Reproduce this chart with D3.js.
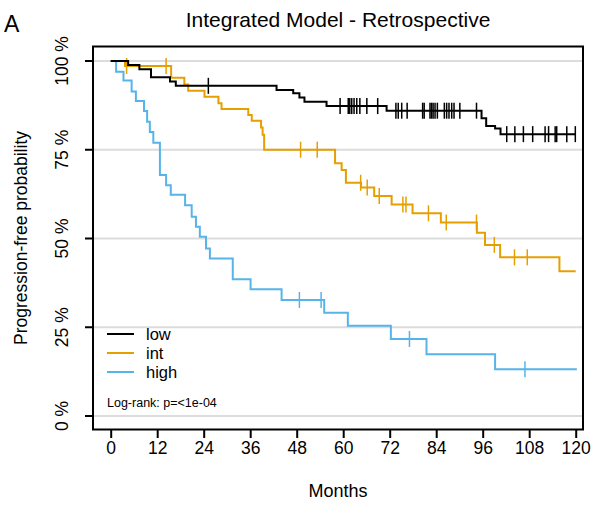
<!DOCTYPE html>
<html><head><meta charset="utf-8">
<script src="https://cdn.jsdelivr.net/npm/d3@7"></script>
<style>body{margin:0;background:#fff}text{font-family:"Liberation Sans",Arial,sans-serif}</style>
</head><body>
<script>
// step curves: [month, survival %]
const lowSteps = [[0,100],[4.5,98.9],[7.4,97.7],[10.4,95.4],[15.3,94.2],[16.8,93],[42.8,91.8],[47.1,90.9],[48.7,89.7],[50,88.5],[55.7,87.3],[71.2,86],[95.7,83.9],[96.9,81.7],[99.2,81],[100.6,79.4],[120,79.4]];
const lowCens = [25.2,59.2,61.3,61.7,62.2,62.8,63.5,64.3,66.1,68.9,73.6,74.2,75.1,76.5,80.5,80.9,82.4,82.8,83.2,83.7,84.3,86.1,86.7,87.3,88,88.6,90.1,94.4,102.2,104.3,106.5,108.9,112.1,113,114.7,115.1,117.7,119.9];
const intSteps = [[0,100],[3.7,98.6],[15.6,95.3],[19,93.4],[20,91.6],[24.2,89.9],[27.8,88.1],[28.6,86.5],[35.5,84.8],[36.4,83.2],[38.8,81.3],[39.2,79.2],[39.6,75],[57.9,71.2],[59.6,69.3],[60.7,65.7],[64.6,64.4],[68,62],[72.5,59.6],[77.9,57.1],[85.2,54.5],[94.5,51.6],[96.6,48.2],[100.5,44.7],[115.8,40.8],[120,40.8]];
const intCens = [4.1,14.3,49,53.3,64.5,66.2,69.3,75.4,76.2,82,86.6,94.4,99,104.2,107.5];
const highSteps = [[0,100],[1.4,97],[3.3,94.5],[5.4,91.4],[6.5,88.7],[8.6,85.9],[9.4,82.9],[10.1,80],[11,77],[12.7,67.9],[14.3,65],[15.5,62.3],[19.2,59.4],[20.9,56.1],[22,53.3],[23,50.5],[24.6,47.2],[25.6,44.4],[31.5,38.5],[36.1,35.7],[44.1,32.7],[55.1,29.1],[61.2,25.4],[72.3,21.7],[81.5,17.4],[99.2,13.2],[120.3,13.2]];
const highCens = [48.7,54.3,77.1,106.9];
const groups = ["low","int","high"];
const colors = ["#000000","#E69F00","#56B4E9"];
const xTicks = d3.range(0,121,12);
const yTicks = [0,25,50,75,100];

const svg = d3.select("body").append("svg").attr("width",598).attr("height",508);
const x = d3.scaleLinear().domain([0,120]).range([110.7,575.7]);
const y = d3.scaleLinear().domain([0,100]).range([416,61]);

svg.append("g").selectAll("line").data(yTicks).enter().append("line")
  .attr("x1",93).attr("x2",583).attr("y1",d=>y(d)).attr("y2",d=>y(d))
  .attr("stroke","#dcdcdc").attr("stroke-width",2);

const series = [[lowSteps,lowCens],[intSteps,intCens],[highSteps,highCens]];
const line = d3.line().x(d=>x(d[0])).y(d=>y(d[1])).curve(d3.curveStepAfter);
// draw high, int, low so low is on top
[2,1,0].forEach(i=>{
  const [steps,cens] = series[i];
  svg.append("path").datum(steps).attr("d",line).attr("fill","none")
    .attr("stroke",colors[i]).attr("stroke-width",2);
  const at = t => { let s=100; steps.forEach(p=>{ if(p[0]<=t) s=p[1]; }); return s; };
  svg.append("g").selectAll("line").data(cens).enter().append("line")
    .attr("x1",d=>x(d)).attr("x2",d=>x(d))
    .attr("y1",d=>y(at(d))-8).attr("y2",d=>y(at(d))+8)
    .attr("stroke",colors[i]).attr("stroke-width",1.5);
});

svg.append("rect").attr("x",93).attr("y",46.5).attr("width",490).attr("height",383)
  .attr("fill","none").attr("stroke","#000").attr("stroke-width",2);

const xa = svg.append("g").attr("transform","translate(0,429)")
  .call(d3.axisBottom(x).tickValues(xTicks).tickSize(9).tickPadding(4));
xa.select(".domain").remove();
xa.selectAll("line").attr("stroke-width",2);
xa.selectAll("text").attr("font-size",17.5).attr("fill","#000");

const ya = svg.append("g").attr("transform","translate(93,0)")
  .call(d3.axisLeft(y).tickValues(yTicks).tickSize(8).tickFormat(d=>d+" %"));
ya.select(".domain").remove();
ya.selectAll(".tick").attr("transform",null);
ya.selectAll(".tick line").attr("stroke-width",2).attr("y1",d=>y(d)).attr("y2",d=>y(d));
ya.selectAll(".tick text").attr("font-size",17.5).attr("fill","#000")
  .attr("text-anchor","middle").attr("x",0).attr("y",0).attr("dy","0.35em")
  .attr("transform",d=>`translate(-31,${y(d)}) rotate(-90)`);

svg.append("text").attr("x",338).attr("y",27).attr("text-anchor","middle")
  .attr("font-size",21).text("Integrated Model - Retrospective");
svg.append("text").attr("x",4).attr("y",32).attr("font-size",23).text("A");
svg.append("text").attr("x",338).attr("y",497).attr("text-anchor","middle")
  .attr("font-size",18).text("Months");
svg.append("text").attr("transform","translate(27,238) rotate(-90)").attr("text-anchor","middle")
  .attr("font-size",17.5).text("Progression-free probability");

const lg = svg.append("g").selectAll("g").data(groups).enter().append("g")
  .attr("transform",(d,i)=>`translate(0,${334+i*19})`);
lg.append("line").attr("x1",107).attr("x2",134).attr("stroke",(d,i)=>colors[i]).attr("stroke-width",2);
lg.append("text").attr("x",146).attr("dy","0.35em").attr("font-size",16.5).text(d=>d);
svg.append("text").attr("x",107).attr("y",407).attr("font-size",12.5).text("Log-rank: p=<1e-04");
</script>
</body></html>
